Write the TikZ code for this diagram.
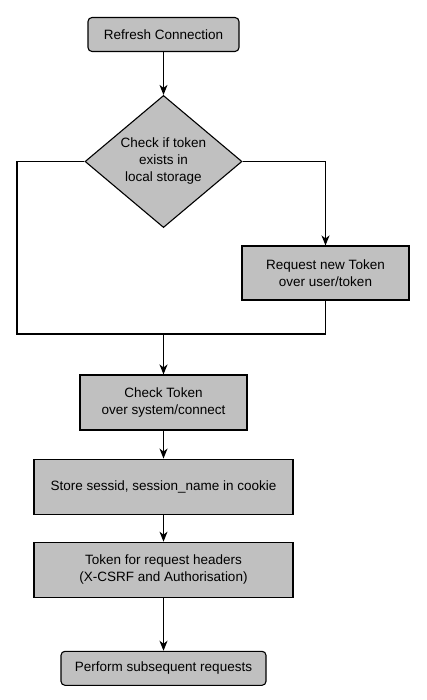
\documentclass[tikz,border=0pt]{standalone}
\usepackage{fontspec}
\setmainfont{Liberation Sans}
\usetikzlibrary{shapes.geometric, positioning, arrows.meta}
\definecolor{boxgray}{HTML}{C0C0C0}
\tikzset{
	x=1pt, y=-1pt, % one unit is one pixel of the layout, y grows downwards
	every node/.style={font=\fontsize{13.5pt}{17pt}\selectfont, align=center},
	terminal/.style={draw, line width=1.1pt, fill=boxgray, rounded corners=4pt, inner sep=0pt, minimum height=34pt},
	process/.style={draw, line width=1.1pt, fill=boxgray, inner sep=0pt, minimum height=55pt},
	decision/.style={draw, line width=1.1pt, fill=boxgray, diamond, inner sep=0pt, minimum width=157pt, minimum height=131pt},
	line/.style={line width=1.1pt},
	arr/.style={line, -{Stealth[length=10pt, width=8pt, inset=3pt]}}, % black arrow head
}
\begin{document}
\begin{tikzpicture}
	\useasboundingbox (0,0) rectangle (426,700);
	\node[terminal, minimum width=151pt] (start) at (163.5,34.5) {Refresh Connection};
	\node[decision] (check) at (163.5,161.5) {Check if token\\exists in\\local storage};
	\node[process, minimum width=167pt, minimum height=54pt] (request) at (325.5,273) {Request new Token\\over user/token};
	\node[process, minimum width=167pt] (verify) at (163.5,402.5) {Check Token\\over system/connect};
	\node[process, minimum width=259pt, below=28pt of verify] (store) {Store sessid, session\_name in cookie};
	\node[process, minimum width=259pt, below=27pt of store] (headers) {Token for request headers\\(X-CSRF and Authorisation)};
	\node[terminal, minimum width=205pt, below=53pt of headers] (perform) {Perform subsequent requests};
	\coordinate (lcorner) at (17,334);
	\coordinate (merge) at (163.5,334);
	\draw[arr] (start) -- (check);
	\draw[arr] (check.east) -| (request.north);
	\draw[line] (check.west) -| (lcorner) -- (request.south |- lcorner) -- (request.south);
	\draw[arr] (merge) -- (verify);
	\draw[arr] (verify) -- (store);
	\draw[arr] (store) -- (headers);
	\draw[arr] (headers) -- (perform);
\end{tikzpicture}
\end{document}
